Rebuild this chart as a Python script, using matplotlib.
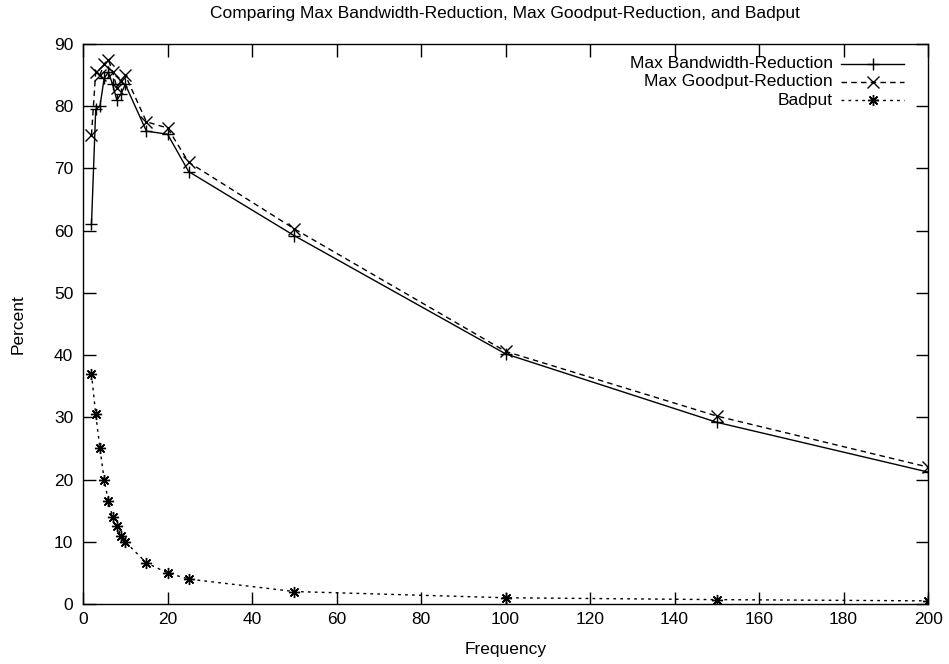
import numpy as np
import matplotlib
matplotlib.use("Agg")
from matplotlib import pyplot as plt

plt.rcParams['font.family'] = ['Liberation Sans', 'DejaVu Sans']

freq = [2, 3, 4, 5, 6, 7, 8, 9, 10, 15, 20, 25, 50, 100, 150, 200]
bandwidth = [61, 79.5, 80, 84.5, 85.5, 83.5, 81, 82, 83.5, 76, 75.5, 69.5, 59.2, 40.2, 29.2, 21.2]
goodput = [75.4, 85.5, 85, 86.8, 87.5, 85.5, 83, 84, 85, 77.5, 76.5, 71, 60.3, 40.6, 30.2, 22]
badput = [37, 30.5, 25, 20, 16.5, 14, 12.5, 11, 10, 6.6, 5, 4, 2, 1, 0.7, 0.5]

labels = ["Max Bandwidth-Reduction", "Max Goodput-Reduction", "Badput"]
styles = [("-", "+"), ((0, (4, 3)), "x"), ((0, (2, 3)), (8, 2, 0))]
fs = 12.5

fig = plt.figure(figsize=(9.49, 6.64), dpi=100)
ax = fig.add_axes([0.0875, 0.0904, 0.8905, 0.8433])

for ys, lab, (ls, mk) in zip([bandwidth, goodput, badput], labels, styles):
    ax.plot(freq, ys, color="black", linestyle=ls, linewidth=1.0,
            marker=mk, markersize=8, markeredgewidth=1.0)

ax.set_xlim(0, 200)
ax.set_ylim(0, 90)
ax.set_xticks(np.arange(0, 201, 20))
ax.set_yticks(np.arange(0, 91, 10))
ax.tick_params(direction="in", length=9, width=1, top=True, right=True,
               labelsize=fs)
ax.tick_params(axis="x", pad=6)
ax.tick_params(axis="y", pad=7)
for s in ax.spines.values():
    s.set_linewidth(1.0)

ax.set_xlabel("Frequency", fontsize=fs, va="top")
ax.xaxis.set_label_coords(0.5, -0.068)
ax.set_ylabel("Percent", fontsize=fs)
ax.yaxis.set_label_coords(-0.068, 0.5)
fig.text(0.5325, 0.979, "Comparing Max Bandwidth-Reduction, Max Goodput-Reduction, and Badput",
         ha="center", va="center", fontsize=fs)

# gnuplot-style key: right aligned text, sample line to the right
for i, (lab, (ls, mk)) in enumerate(zip(labels, styles)):
    y = 0.965 - i * 0.0325
    ax.text(0.887, y, lab, transform=ax.transAxes, ha="right", va="center", fontsize=fs)
    ax.plot([0.897, 0.9345, 0.972], [y, y, y], transform=ax.transAxes, color="black",
            linestyle=ls, linewidth=1.0, marker=mk, markersize=8,
            markevery=[1], markeredgewidth=1.0)

fig.savefig("out.png", dpi=100)
